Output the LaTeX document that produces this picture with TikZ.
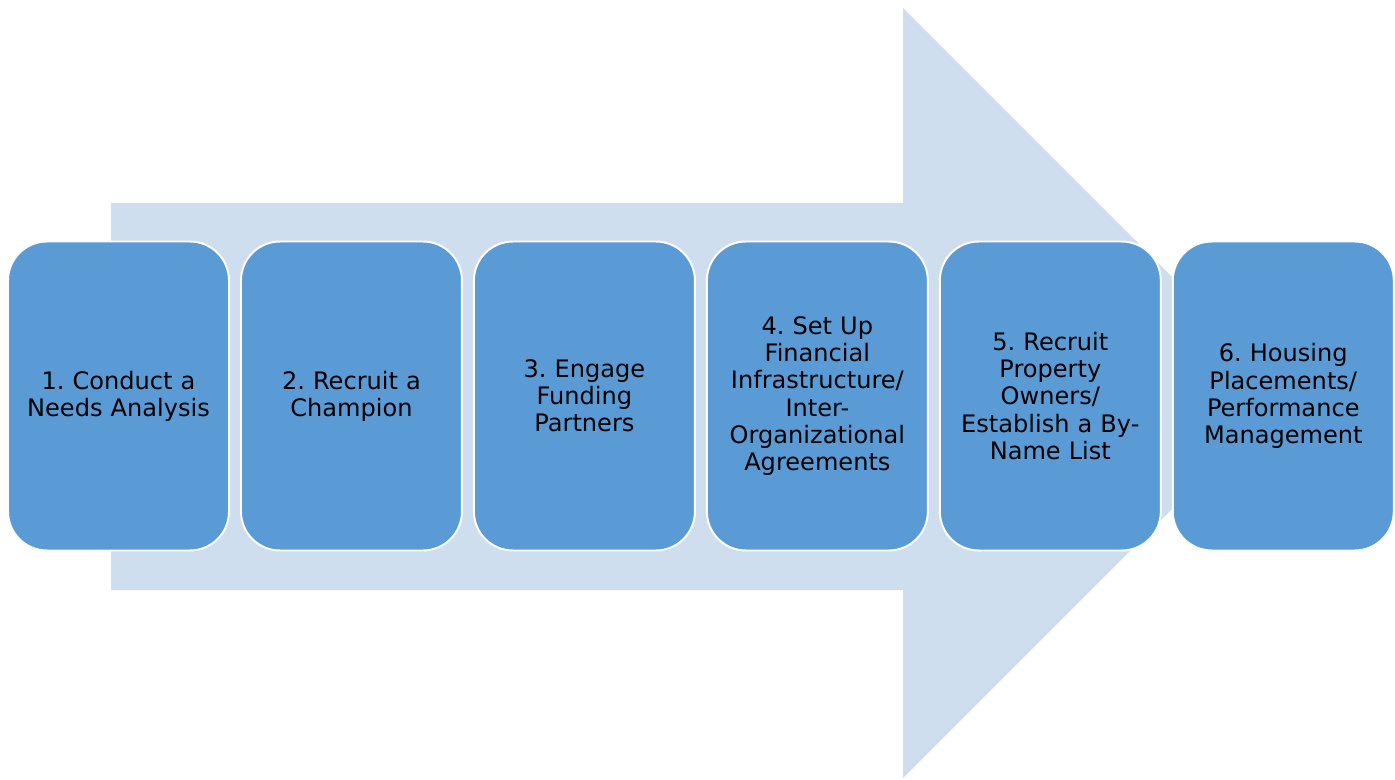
\documentclass[tikz,border=0pt]{standalone}
\usepackage{fontspec}
\setmainfont{DejaVu Sans}
\usetikzlibrary{positioning}
\definecolor{arrowblue}{RGB}{207,222,238}
\definecolor{stageblue}{RGB}{91,155,213}
\frenchspacing

\begin{document}
\begin{tikzpicture}[x=.02cm,y=-.02cm,
  stage/.style={fill=stageblue,draw=white,line width=1.1pt,rounded corners=.78cm,
    minimum width=4.42cm,minimum height=6.18cm,outer sep=0pt,inner sep=1pt,
    align=center,text width=4.2cm,font=\fontsize{13.7}{15.5}\selectfont}]
\useasboundingbox (0,0) rectangle (1395,780);
% big arrow behind the steps
\path[fill=arrowblue] (111,203) -- (903,203) -- (903,8) -- (1288,393)
  -- (903,778) -- (903,590) -- (111,590) -- cycle;
% the six steps
\node[stage] (s1) at (118.5,396) {1. Conduct a\\Needs Analysis};
\node[stage,right=.24cm of s1] (s2) {2. Recruit a\\Champion};
\node[stage,right=.24cm of s2] (s3) {3. Engage\\Funding\\Partners};
\node[stage,right=.24cm of s3] (s4) {4. Set Up\\Financial\\Infrastructure/\\Inter-\\Organizational\\Agreements};
\node[stage,right=.24cm of s4] (s5) {5. Recruit\\Property\\Owners/\\Establish a By-\\Name List};
\node[stage,right=.24cm of s5] (s6) {6. Housing\\Placements/\\Performance\\Management};
\end{tikzpicture}
\end{document}
